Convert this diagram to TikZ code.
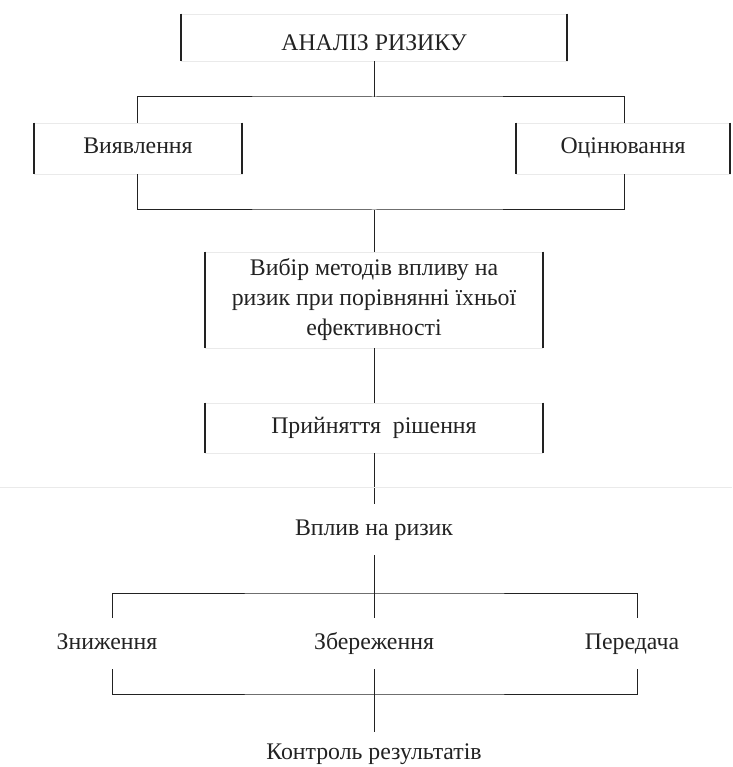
\documentclass[tikz,border=0pt]{standalone}
\usepackage{fontspec}
\setmainfont{Liberation Serif}
\definecolor{ink}{HTML}{222222}
\definecolor{faint}{HTML}{EAEAEA}
\begin{document}
\begin{tikzpicture}[x=1pt,y=-1pt,
  every node/.style={font=\fontsize{23.8}{30}\selectfont, text=ink, inner sep=0pt},
  oneline/.style={text height=16pt, text depth=5pt},
  box/.style={draw=faint, line width=0.8pt, align=center},
  conn/.style={draw=ink, line width=1pt},
  side/.style={draw=ink, line width=2pt}]
\useasboundingbox (0,0) rectangle (732,767);
% boxes
\node[box, text height=32pt, text depth=5pt, minimum width=386pt, minimum height=47pt] (A) at (374,37.5) {АНАЛІЗ РИЗИКУ};
\node[box, oneline, minimum width=208pt, minimum height=51pt] (B) at (138,148.5) {Виявлення};
\node[box, oneline, minimum width=214pt, minimum height=51pt] (C) at (623,148.5) {Оцінювання};
\node[box, minimum width=337pt, minimum height=96pt] (D) at (374,300) {Вибір методів впливу на\\ризик при порівнянні їхньої\\ефективності};
\node[box, oneline, minimum width=337pt, minimum height=50pt] (E) at (374,428) {Прийняття\ \ рішення};
% side bars
\foreach \n in {A,B,C,D,E}{
  \draw[side] (\n.north west) -- (\n.south west);
  \draw[side] (\n.north east) -- (\n.south east);
}
% plain text nodes
\node[oneline, minimum height=51pt] (F) at (374,529.5) {Вплив на ризик};
\node[oneline, minimum height=51pt] (G1) at (107,643.5) {Зниження};
\node[oneline, minimum height=51pt] (G2) at (374,643.5) {Збереження};
\node[oneline, minimum height=51pt] (G3) at (632,643.5) {Передача};
\node[oneline, text height=20pt, minimum height=40pt] (H) at (374,752) {Контроль результатів};
% junctions
\coordinate (j1) at (374,97);
\coordinate (j2) at (374,210);
\coordinate (j3) at (374,593);
\coordinate (j4) at (374,694);
\coordinate (g1t) at (112,618);
\coordinate (g3t) at (637,618);
\coordinate (g1b) at (112,669);
\coordinate (g3b) at (637,669);
% connectors
\draw[conn] (A.south) -- (j1);
\draw[conn] (B.north -| 137,0) |- (j1) -| (C.north -| 624,0);
\draw[conn] (B.south -| 137,0) |- (j2) -| (C.south -| 624,0);
\draw[conn] (j2) -- (D.north);
\draw[conn] (D.south) -- (E.north);
\draw[conn] (E.south) -- (F.north);
\draw[faint, line width=0.8pt] (0,487) -- (732,487);
\draw[conn] (F.south) -- (j3);
\draw[conn] (g1t) |- (j3) -| (g3t);
\draw[conn] (j3) -- (G2.north);
\draw[conn] (g1b) |- (j4) -| (g3b);
\draw[conn] (G2.south) -- (j4);
\draw[conn] (j4) -- (H.north);
\end{tikzpicture}
\end{document}
